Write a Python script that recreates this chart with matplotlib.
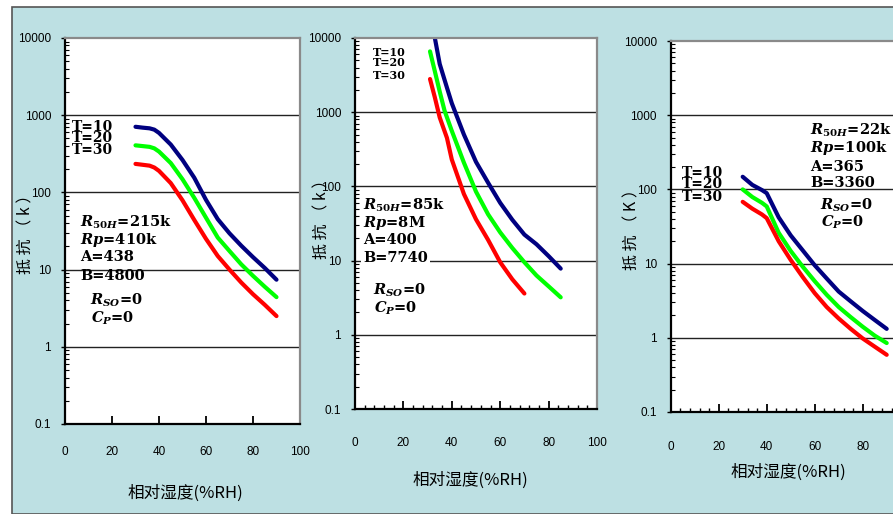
import matplotlib
matplotlib.use("Agg")
import matplotlib.pyplot as plt
from matplotlib.patches import Rectangle
from matplotlib.ticker import FixedLocator, MultipleLocator, NullFormatter

# ---- data (x = %RH, y = resistance in k) ----
p1_x = [30, 33, 36, 38, 40, 45, 50, 55, 60, 65, 70, 75, 80, 85, 90]
p1_t10 = [708, 690, 676, 650, 590, 417, 263, 155, 80, 45, 29.5, 20.4, 14.5, 10.5, 7.4]
p1_t20 = [407, 398, 389, 372, 338, 240, 148, 85, 47, 26, 17.4, 11.7, 8.3, 6.0, 4.4]
p1_t30 = [234, 228, 222, 210, 190, 132, 79, 44, 25, 15, 10, 6.8, 4.8, 3.5, 2.5]

p2_x_t10 = [33, 35, 38, 40, 45, 50, 55, 60, 65, 70, 75, 80, 85]
p2_t10 = [10000, 4470, 2140, 1320, 500, 214, 112, 60, 35.5, 22.4, 16.6, 11.5, 7.8]
p2_x_t20 = [31, 33, 35, 37, 40, 45, 50, 55, 60, 65, 70, 75, 80, 85]
p2_t20 = [6600, 3550, 1900, 1050, 560, 209, 85, 42, 24, 14.8, 9.5, 6.3, 4.5, 3.2]
p2_x_t30 = [31, 33, 35, 38, 40, 45, 50, 55, 60, 65, 70]
p2_t30 = [2800, 1580, 850, 450, 230, 79, 36, 19, 9.5, 5.6, 3.6]

p3_x = [30, 34, 38, 40, 45, 50, 55, 60, 65, 70, 75, 80, 85, 90]
p3_t10 = [148, 115, 98, 89, 42, 24, 15.1, 9.5, 6.3, 4.2, 3.1, 2.3, 1.74, 1.32]
p3_t20 = [100, 79, 66, 59, 26, 14.8, 9.1, 5.8, 3.8, 2.6, 1.9, 1.41, 1.07, 0.85]
p3_t30 = [68, 55, 46, 41, 20, 11.2, 6.6, 4.0, 2.6, 1.82, 1.32, 0.98, 0.76, 0.59]

temps = ["T=10", "T=20", "T=30"]
colors = ["#000080", "#00ff00", "#ff0000"]

y_ticks = [0.1, 1, 10, 100, 1000, 10000]
y_ticklabels = ["0.1", "1", "10", "100", "1000", "10000"]
x_ticks = [0, 20, 40, 60, 80, 100]
x_ticks_cut = [0, 20, 40, 60, 80]  # third panel runs past the picture edge
xlabel = "相对湿度(%RH)"

plt.rcParams["mathtext.fontset"] = "custom"
plt.rcParams["mathtext.it"] = "DejaVu Serif:italic:bold"
plt.rcParams["mathtext.rm"] = "DejaVu Serif:bold"
plt.rcParams["mathtext.bf"] = "DejaVu Serif:bold"

W, H = 893, 514
fig = plt.figure(figsize=(W / 100, H / 100), dpi=100, facecolor="white")
fig.patches.append(Rectangle((12 / W, 0), 1, (H - 7) / H, transform=fig.transFigure,
                             facecolor="#bde0e3", edgecolor="#555555", lw=1.2, zorder=-5))

tick_font = dict(family=["Liberation Sans", "DejaVu Sans"], size=8.5)
cjk = ["Noto Sans CJK SC", "DejaVu Sans"]
serif = dict(family="DejaVu Serif", weight="bold")


def make_axes(px_left, px_right, px_top, px_bottom, xt, minor_x, xpad):
    ax = fig.add_axes([px_left / W, (H - px_bottom) / H,
                       (px_right - px_left) / W, (px_bottom - px_top) / H])
    ax.set_facecolor("white")
    ax.set_yscale("log")
    ax.set_xlim(0, 100)
    ax.set_ylim(0.1, 10000)
    ax.yaxis.set_major_locator(FixedLocator(y_ticks))
    ax.set_yticklabels(y_ticklabels, **tick_font)
    ax.yaxis.set_minor_formatter(NullFormatter())
    ax.set_xticks(xt)
    ax.set_xticklabels([str(v) for v in xt], **tick_font)
    if minor_x:
        ax.xaxis.set_minor_locator(MultipleLocator(4))
    ax.tick_params(axis="y", which="major", direction="out", length=3, width=1, pad=7)
    ax.tick_params(axis="y", which="minor", direction="in", length=3, width=0.8)
    ax.tick_params(axis="x", which="major", direction="in", length=6, width=1.3, pad=xpad)
    ax.tick_params(axis="x", which="minor", direction="in", length=3, width=1)
    for s in ["left", "bottom"]:
        ax.spines[s].set_color("black")
        ax.spines[s].set_linewidth(1.6)
    for s in ["top", "right"]:
        ax.spines[s].set_color("#8a8a8a")
        ax.spines[s].set_linewidth(1.6)
    for v in [1, 10, 100, 1000]:
        ax.axhline(v, color="#222222", lw=1, zorder=1)
    return ax


def add_params(ax, x, ys, r50, rp, a, b, xs, cx, bbox=None, size=10.5):
    lines = [r"$R_{50H}$=" + r50, r"$Rp$=" + rp, "A=" + a, "B=" + b]
    for txt, yy in zip(lines, ys[:4]):
        ax.text(x, yy, txt, transform=ax.transAxes, va="center", ha="left",
                fontsize=size, bbox=bbox, zorder=3, **serif)
    ax.text(xs, ys[4], r"$R_{SO}$=0", transform=ax.transAxes, va="center", ha="left",
            fontsize=size, zorder=3, **serif)
    ax.text(cx, ys[5], r"$C_P$=0", transform=ax.transAxes, va="center", ha="left",
            fontsize=size, zorder=3, **serif)


def add_temps(ax, x, ys, size):
    for t, yy in zip(temps, ys):
        ax.text(x, yy, t, transform=ax.transAxes, va="center", ha="left",
                fontsize=size, zorder=3, **serif)


# ---- panel 1 ----
ax1 = make_axes(65, 300, 38, 424, x_ticks, False, 16)
for yv, c in zip([p1_t10, p1_t20, p1_t30], colors):
    ax1.plot(p1_x, yv, color=c, lw=3, solid_capstyle="round", solid_joinstyle="round", zorder=2)
add_temps(ax1, 0.030, [0.769, 0.741, 0.710], 10)
add_params(ax1, 0.064, [0.523, 0.477, 0.433, 0.383, 0.321, 0.275],
           "215k", "410k", "438", "4800", 0.106, 0.11)

# ---- panel 2 ----
ax2 = make_axes(355, 597, 38, 409, x_ticks, True, 20)
for xv, yv, c in zip([p2_x_t10, p2_x_t20, p2_x_t30], [p2_t10, p2_t20, p2_t30], colors):
    ax2.plot(xv, yv, color=c, lw=3, solid_capstyle="round", solid_joinstyle="round", zorder=2)
add_temps(ax2, 0.074, [0.962, 0.933, 0.898], 8)
add_params(ax2, 0.033, [0.550, 0.501, 0.456, 0.407, 0.321, 0.272],
           "85k", "8M", "400", "7740", 0.074, 0.078,
           bbox=dict(facecolor="white", edgecolor="none", pad=1.5))

# ---- panel 3 ----
ax3 = make_axes(670.7, 910.7, 41, 412, x_ticks_cut, True, 21)
for yv, c in zip([p3_t10, p3_t20, p3_t30], colors):
    ax3.plot(p3_x, yv, color=c, lw=3, solid_capstyle="round", solid_joinstyle="round", zorder=2)
add_temps(ax3, 0.047, [0.645, 0.615, 0.580], 10)
add_params(ax3, 0.580, [0.760, 0.712, 0.660, 0.617, 0.558, 0.512],
           "22k", "100k", "365", "3360", 0.622, 0.626)

# ---- axis titles ----
for cx, cy in [(185, 493), (470, 480), (788, 472)]:
    fig.text(cx / W, (H - cy) / H, xlabel, ha="center", va="center",
             family=cjk, fontsize=12)
for cx, cy, lab in [(26, 230, "抵 抗 （ k ）"), (322, 215, "抵 抗 （ k ）"),
                    (632, 226, "抵 抗 （ K ）")]:
    fig.text(cx / W, (H - cy) / H, lab, ha="center", va="center", rotation=90,
             family=cjk, fontsize=11.5)

fig.savefig("out.png", dpi=100)
